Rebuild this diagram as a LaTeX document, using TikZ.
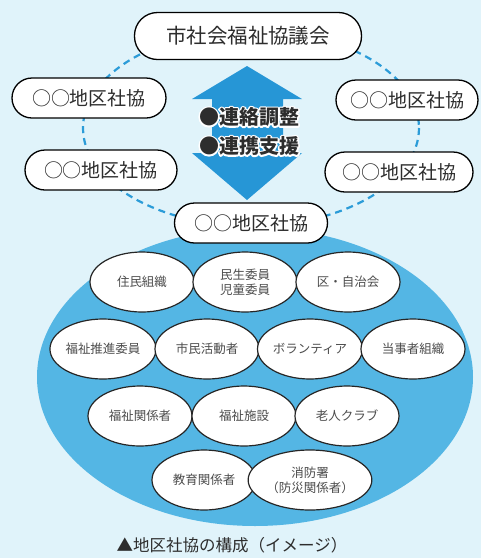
\documentclass[tikz,border=0pt]{standalone}
\usepackage{fontspec}
\setmainfont{Noto Sans CJK JP}
\usetikzlibrary{shapes.geometric}
\definecolor{bgc}{RGB}{224,243,250}
\definecolor{bigblue}{RGB}{84,182,228}
\definecolor{arrowblue}{RGB}{38,150,214}
\definecolor{dashblue}{RGB}{44,156,216}
\definecolor{txt}{RGB}{45,45,45}
\tikzset{
  orgbox/.style={draw=black, line width=1.3pt, fill=white, rounded corners=20pt,
    minimum width=154pt, minimum height=40pt, inner sep=0pt, text=txt, font=\fontsize{19}{19}\selectfont},
  member/.style={ellipse, draw=black!85, line width=1.2pt, fill=white,
    minimum width=104pt, minimum height=60pt, inner sep=0pt, text=txt!85, align=center,
    font=\fontsize{12.5}{15}\selectfont},
  midtext/.style={text=txt, inner sep=0pt, font=\bfseries\fontsize{20}{20}\selectfont}
}
% one piece of text: first stroked wide in white (halo), then filled dark
\newcommand{\halo}[1]{\rlap{\color{white}\special{pdf:code 1 Tr 3.2 w 1 j 1 J 1 1 1 RG}#1\special{pdf:code 0 Tr}}#1}
\begin{document}
\begin{tikzpicture}[x=1pt,y=-1pt]
\useasboundingbox (0,0) rectangle (481,558);
\fill[bgc] (0,0) rectangle (481,558);
% big ellipse
\fill[bigblue] (255,377) ellipse [x radius=218, y radius=149];
% dashed ring
\draw[dashblue, line width=2.2pt, dash pattern=on 7pt off 5pt] (251,128) ellipse [x radius=168, y radius=98];
% double arrow
\fill[arrowblue] (247,66) -- (302,99) -- (283,99) -- (283,153) -- (302,153) -- (247,200)
  -- (192,153) -- (212,153) -- (212,99) -- (192,99) -- cycle;
\node[midtext] (lab1) at (249,117) {\halo{●連絡調整}};
\node[midtext] (lab2) at (249,146) {\halo{●連携支援}};
% outer nodes
\node[orgbox, minimum width=227pt, minimum height=47pt, rounded corners=23pt, font=\fontsize{20.5}{20.5}\selectfont] (city) at (248,36) {市社会福祉協議会};
\node[orgbox] (lu) at (89,98) {○○地区社協};
\node[orgbox, minimum width=142pt] (ru) at (407,100) {○○地区社協};
\node[orgbox, minimum width=152pt] (ll) at (101,170) {○○地区社協};
\node[orgbox, minimum width=148pt] (rl) at (399,172) {○○地区社協};
\node[orgbox, minimum width=153pt] (bot) at (251,223) {○○地区社協};
% members
\node[member] (m1) at (142,282) {住民組織};
\node[member] (m2) at (245,282) {民生委員\\児童委員};
\node[member] (m3) at (348,282) {区・自治会};
\node[member] (m4) at (103,349) {福祉推進委員};
\node[member] (m5) at (207,349) {市民活動者};
\node[member] (m6) at (310,349) {ボランティア};
\node[member] (m7) at (413,349) {当事者組織};
\node[member] (m8) at (140,416) {福祉関係者};
\node[member] (m9) at (244,416) {福祉施設};
\node[member] (m10) at (347,416) {老人クラブ};
\node[member] (m11) at (204,480) {教育関係者};
\node[member] (m12) at (310,480) {消防署\\（防災関係者）};
% caption
\node[text=txt, font=\fontsize{16.5}{16.5}\selectfont] (cap) at (232,545) {▲地区社協の構成（イメージ）};
\end{tikzpicture}
\end{document}
